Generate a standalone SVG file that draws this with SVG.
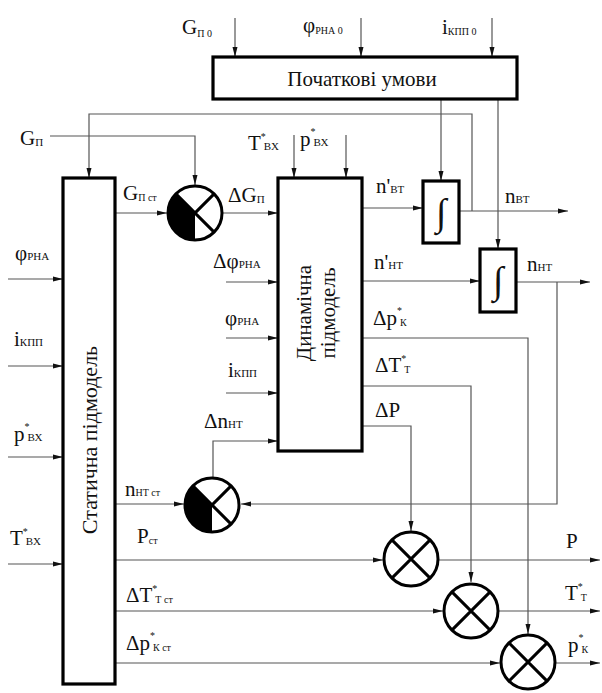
<svg xmlns="http://www.w3.org/2000/svg" width="602" height="693" viewBox="0 0 602 693" font-family="'Liberation Serif', 'DejaVu Serif', serif">
<style>
.box{fill:#fff;stroke:#000;stroke-width:3.2}
.ln{fill:none;stroke:#555;stroke-width:1.2}
.arr{marker-end:url(#ah)}
.cir{fill:#fff;stroke:#000;stroke-width:3}
.x{stroke:#000;stroke-width:3}
text{font-family:'Liberation Serif', 'DejaVu Serif', serif;fill:#111}
.t{font-size:21px}
.s{font-size:11px}
.st{font-size:10px}
.ttl{font-size:21px}
.rot{font-size:22px}
.rot2{font-size:21px}
.int{font-size:38px}
</style>
<defs>
<marker id="ah" viewBox="0 0 10 6" refX="10" refY="3" markerWidth="10" markerHeight="6" markerUnits="userSpaceOnUse" orient="auto">
<path d="M0,0.5 L10,3 L0,5.5 z" fill="#111"/>
</marker>
</defs>

<g id="connectors">
<path class="ln arr" d="M235,18 V57"/>
<path class="ln arr" d="M361,18 V57"/>
<path class="ln arr" d="M492,18 V57"/>
<path class="ln arr" d="M441,99 V181"/>
<path class="ln arr" d="M498,99 V249"/>
<path class="ln arr" d="M459,211 H568"/>
<path class="ln arr" d="M472,211 V114 H89 V178"/>
<path class="ln arr" d="M50,136 H195 V185"/>
<path class="ln arr" d="M115,213 H167"/>
<path class="ln arr" d="M223,213 H278"/>
<path class="ln arr" d="M294,135 V178"/>
<path class="ln arr" d="M346,135 V178"/>
<path class="ln arr" d="M226,282 H278"/>
<path class="ln arr" d="M226,338 H278"/>
<path class="ln arr" d="M226,393 H278"/>
<path class="ln arr" d="M213,477 V441 H278"/>
<path class="ln arr" d="M8,279 H63"/>
<path class="ln arr" d="M8,366 H63"/>
<path class="ln arr" d="M8,457 H63"/>
<path class="ln arr" d="M8,564 H63"/>
<path class="ln arr" d="M362,208 H423"/>
<path class="ln arr" d="M362,281 H480"/>
<path class="ln arr" d="M516,282 H590"/>
<path class="ln arr" d="M557,282 V504 H241"/>
<path class="ln arr" d="M115,504 H184"/>
<path class="ln arr" d="M362,338 H528 V634"/>
<path class="ln arr" d="M362,386 H471 V582"/>
<path class="ln arr" d="M362,426 H411 V531"/>
<path class="ln arr" d="M115,560 H383"/>
<path class="ln arr" d="M439,560 H600"/>
<path class="ln arr" d="M115,611 H443"/>
<path class="ln arr" d="M499,611 H600"/>
<path class="ln arr" d="M115,663 H500"/>
<path class="ln arr" d="M556,663 H600"/>
</g>

<g id="init">
<rect class="box" x="213" y="57" width="304" height="42"/>
<text class="ttl" x="362" y="86" text-anchor="middle">Початкові умови</text>
</g>

<g id="static">
<rect class="box" x="63" y="178" width="52" height="506"/>
<text class="rot" x="89" y="448" text-anchor="middle" transform="rotate(-90 89 440)">Статична підмодель</text>
</g>

<g id="dynamic">
<rect class="box" x="278" y="178" width="84" height="273"/>
<text class="rot2" x="313" y="311" text-anchor="middle" transform="rotate(-90 313 313)">Динамічна</text>
<text class="rot2" x="313" y="335" text-anchor="middle" transform="rotate(-90 313 313)">підмодель</text>
</g>

<g id="int1">
<rect class="box" x="423" y="181" width="36" height="62"/>
<text class="int" x="441" y="225" text-anchor="middle">∫</text>
</g>

<g id="int2">
<rect class="box" x="480" y="249" width="36" height="63"/>
<text class="int" x="498" y="293" text-anchor="middle">∫</text>
</g>

<g id="sum1">
<circle class="cir" cx="195" cy="213" r="27"/>
<path d="M195,213 L175.9,193.9 A27,27 0 0 0 195,240 Z" fill="#000"/>
<path class="x" d="M175.9,193.9 L214.1,232.1 M214.1,193.9 L175.9,232.1"/>
</g>

<g id="sum2">
<circle class="cir" cx="212" cy="505" r="27"/>
<path d="M212,505 L192.9,485.9 A27,27 0 0 0 212,532 Z" fill="#000"/>
<path class="x" d="M192.9,485.9 L231.1,524.1 M231.1,485.9 L192.9,524.1"/>
</g>

<g id="sum3">
<circle class="cir" cx="411" cy="559" r="27"/>
<path class="x" d="M391.9,539.9 L430.1,578.1 M430.1,539.9 L391.9,578.1"/>
</g>

<g id="sum4">
<circle class="cir" cx="471" cy="611" r="27"/>
<path class="x" d="M451.9,591.9 L490.1,630.1 M490.1,591.9 L451.9,630.1"/>
</g>

<g id="sum5">
<circle class="cir" cx="528" cy="662" r="27"/>
<path class="x" d="M508.9,642.9 L547.1,681.1 M547.1,642.9 L508.9,681.1"/>
</g>

<g id="labels">
<text class="t" x="182" y="34">G<tspan class="st" dy="3">П 0</tspan></text>
<text class="t" x="303" y="32">φ<tspan class="st" dy="2">РНА 0</tspan></text>
<text class="t" x="442" y="34">i<tspan class="st" dy="1">КПП 0</tspan></text>
<text class="t" x="20" y="145">G<tspan class="s" dy="1">П</tspan></text>
<text class="t" x="248" y="150">T<tspan class="st" dy="-10">*</tspan><tspan class="s" dx="-2" dy="10">ВХ</tspan></text>
<text class="t" x="300" y="146">p<tspan class="st" dy="-11">*</tspan><tspan class="s" dx="-2" dy="11">ВХ</tspan></text>
<text class="t" x="123" y="200">G<tspan class="st" dy="1">П ст</tspan></text>
<text class="t" x="228" y="202">ΔG<tspan class="s" dy="1">П</tspan></text>
<text class="t" x="213" y="268">Δφ<tspan class="s">РНА</tspan></text>
<text class="t" x="225" y="325">φ<tspan class="s">РНА</tspan></text>
<text class="t" x="228" y="377">i<tspan class="s">КПП</tspan></text>
<text class="t" x="204" y="428">Δn<tspan class="s">НТ</tspan></text>
<text class="t" x="15" y="260">φ<tspan class="s">РНА</tspan></text>
<text class="t" x="14" y="346">i<tspan class="s">КПП</tspan></text>
<text class="t" x="14" y="441">p<tspan class="st" dy="-11">*</tspan><tspan class="s" dx="-2" dy="11">ВХ</tspan></text>
<text class="t" x="10" y="545">T<tspan class="st" dy="-10">*</tspan><tspan class="s" dx="-2" dy="10">ВХ</tspan></text>
<text class="t" x="376" y="193">n'<tspan class="s">ВТ</tspan></text>
<text class="t" x="505" y="203">n<tspan class="s">ВТ</tspan></text>
<text class="t" x="374" y="269">n'<tspan class="s">НТ</tspan></text>
<text class="t" x="527" y="271">n<tspan class="s">НТ</tspan></text>
<text class="t" x="373" y="325">Δp<tspan class="st" dy="-11">*</tspan><tspan class="st" dx="-2" dy="12">К</tspan></text>
<text class="t" x="375" y="372">ΔT<tspan class="st" dy="-10">*</tspan><tspan class="st" dx="-2" dy="11">Т</tspan></text>
<text class="t" x="375" y="417">ΔP</text>
<text class="t" x="125" y="496">n<tspan class="st">НТ ст</tspan></text>
<text class="t" x="137" y="543">P<tspan class="st" dy="1">ст</tspan></text>
<text class="t" x="126" y="602">ΔT<tspan class="st" dy="-10">*</tspan><tspan class="st" dx="-2" dy="11">Т ст</tspan></text>
<text class="t" x="126" y="650">Δp<tspan class="st" dy="-11">*</tspan><tspan class="st" dx="-2" dy="12">К ст</tspan></text>
<text class="t" x="566" y="548">P</text>
<text class="t" x="565" y="600">T<tspan class="st" dy="-10">*</tspan><tspan class="st" dx="-2" dy="11">Т</tspan></text>
<text class="t" x="568" y="652">p<tspan class="st" dy="-11">*</tspan><tspan class="st" dx="-2" dy="12">К</tspan></text>
</g>
</svg>
